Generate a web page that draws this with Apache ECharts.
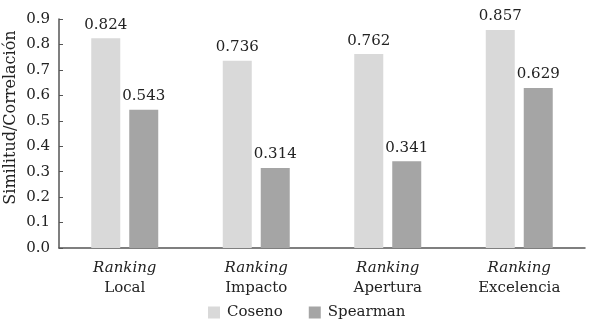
<!DOCTYPE html>
<html><head><meta charset="utf-8">
<script src="https://cdn.jsdelivr.net/npm/echarts@6/dist/echarts.min.js"></script>
<style>html,body{margin:0;padding:0;background:#fff}#c{width:589px;height:331px}</style>
</head><body><div id="c"></div>
<script>
const categories = ['Local', 'Impacto', 'Apertura', 'Excelencia'];
const coseno = [0.824, 0.736, 0.762, 0.857];
const spearman = [0.543, 0.314, 0.341, 0.629];
const seriesNames = ['Coseno', 'Spearman'];
const yTitle = 'Similitud/Correlación';

const FONT = 'DejaVu Serif';
const chart = echarts.init(document.getElementById('c'));
const lbl = {show: true, position: 'top', distance: 6, color: '#222', fontFamily: FONT, fontSize: 15,
  formatter: p => p.value.toFixed(3)};
chart.setOption({
  animation: false,
  textStyle: {fontFamily: FONT},
  grid: {left: 59, right: 4, top: 19, bottom: 83, containLabel: false, outerBoundsMode: 'none'},
  legend: {top: 300, left: 203, itemWidth: 12, itemHeight: 12, itemGap: 26,
    icon: 'rect', textStyle: {fontFamily: FONT, fontSize: 15, color: '#222', padding: [0, 0, 0, 2]}, data: seriesNames},
  xAxis: {type: 'category', data: categories,
    axisLine: {lineStyle: {color: '#555', width: 1.5}}, axisTick: {show: false},
    axisLabel: {margin: 10, lineHeight: 20,
      formatter: v => '{i|Ranking}\n{n|' + v + '}',
      rich: {i: {fontFamily: FONT, fontStyle: 'italic', fontSize: 15, color: '#222', lineHeight: 20},
             n: {fontFamily: FONT, fontSize: 15, color: '#222', lineHeight: 20}}}},
  yAxis: {type: 'value', min: 0, max: 0.9, interval: 0.1,
    name: yTitle, nameLocation: 'middle', nameGap: 40, nameRotate: 90, nameMoveOverlap: false,
    nameTextStyle: {fontFamily: FONT, fontSize: 16, color: '#222', padding: [0, 0, 0, 32]},
    axisLine: {show: true, lineStyle: {color: '#555', width: 1.5}},
    axisTick: {show: true, inside: true, length: 4, lineStyle: {color: '#555'}},
    splitLine: {show: false},
    axisLabel: {fontFamily: FONT, fontSize: 15, color: '#222', margin: 9, formatter: v => v.toFixed(1)}},
  series: [
    {name: seriesNames[0], type: 'bar', data: coseno, barWidth: 29, barGap: '31%',
      itemStyle: {color: '#d9d9d9'}, label: lbl},
    {name: seriesNames[1], type: 'bar', data: spearman, barWidth: 29,
      itemStyle: {color: '#a5a5a5'}, label: lbl}
  ]
});
</script></body></html>
